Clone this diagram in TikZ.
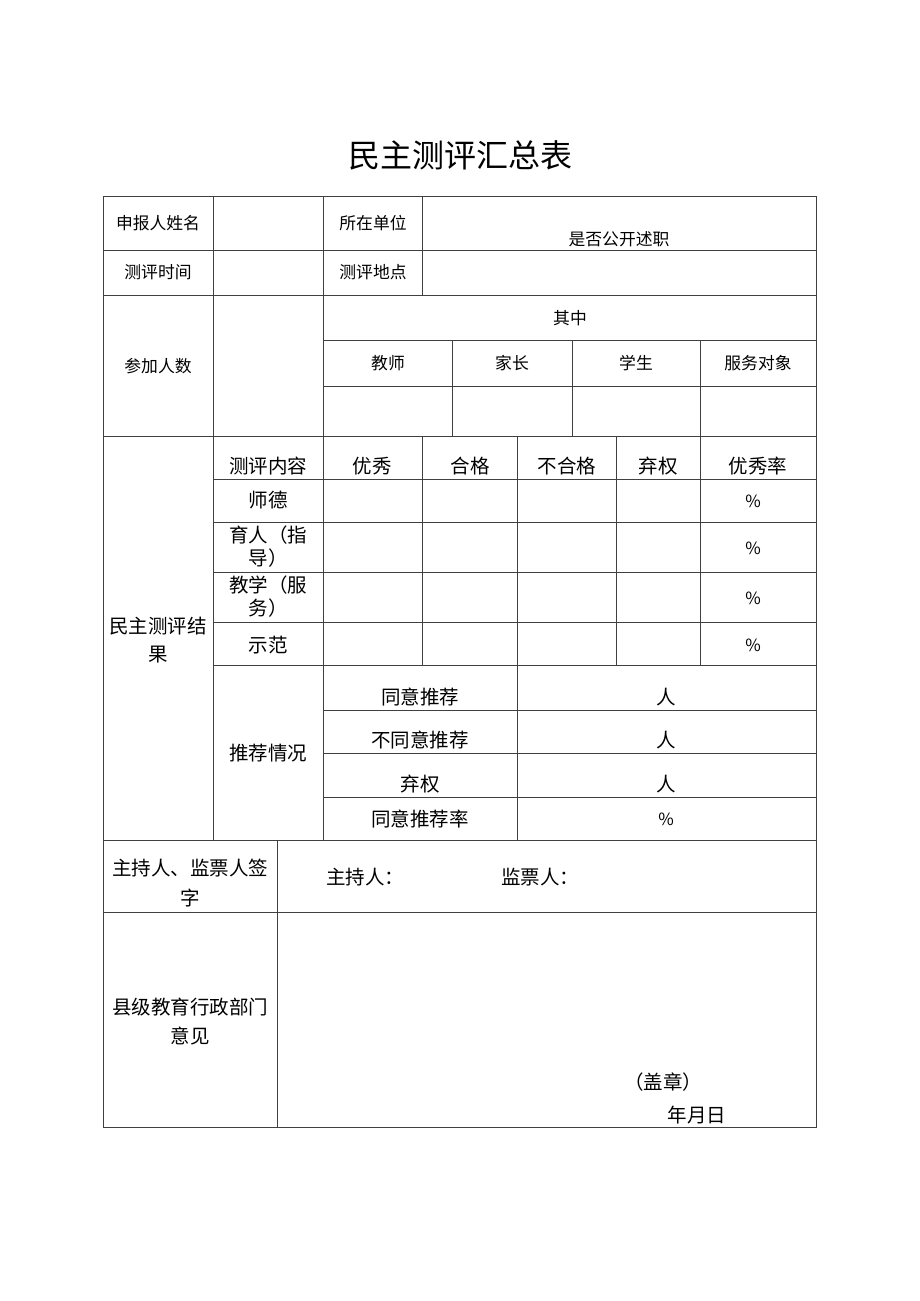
\documentclass[tikz,border=0pt]{standalone}
\usepackage{fontspec}
\setmainfont{Noto Sans CJK SC}
\begin{document}
\begin{tikzpicture}[x=1pt,y=-1pt,
  grid/.style={draw=black!75,line width=0.9pt},
  sm/.style={inner sep=0pt,font=\fontsize{16.8}{19}\selectfont},
  md/.style={inner sep=0pt,font=\fontsize{19.5}{23}\selectfont},
  ttl/.style={inner sep=0pt,font=\fontsize{32}{36}\selectfont}]
\useasboundingbox[fill=white] (0,0) rectangle (920,1301);
% title
\node[ttl] (title) at (460,155) {民主测评汇总表};
% outer frame
\draw[grid] (103,196) rectangle (816,1127);
% horizontal lines
\foreach \y in {250,295,436,840,912} \draw[grid] (103,\y) -- (816,\y);
\foreach \y in {340,386} \draw[grid] (323,\y) -- (816,\y);
\foreach \y in {479,522,572,622,665} \draw[grid] (213,\y) -- (816,\y);
\foreach \y in {710,753,797} \draw[grid] (323,\y) -- (816,\y);
% vertical lines
\draw[grid] (213,196) -- (213,840);
\draw[grid] (323,196) -- (323,840);
\draw[grid] (422,196) -- (422,295);
\draw[grid] (422,436) -- (422,665);
\foreach \x in {452,572} \draw[grid] (\x,340) -- (\x,436);
\draw[grid] (700,340) -- (700,665);
\draw[grid] (517,436) -- (517,840);
\draw[grid] (616,436) -- (616,665);
\draw[grid] (277,840) -- (277,1127);
% top section
\node[sm] (sbr) at (158,223) {申报人姓名};
\node[sm] (szdw) at (373,223) {所在单位};
\node[sm] (sfgk) at (619,239) {是否公开述职};
\node[sm] (cpsj) at (158,272) {测评时间};
\node[sm] (cpdd) at (373,272) {测评地点};
\node[sm] (cjrs) at (158,366) {参加人数};
\node[sm] (qz) at (570,318) {其中};
\node[sm] (js) at (388,363) {教师};
\node[sm] (jz) at (512,363) {家长};
\node[sm] (xs) at (636,363) {学生};
\node[sm] (fwdx) at (758,363) {服务对象};
% evaluation header
\node[md] (cpnr) at (268,466) {测评内容};
\node[md] (yx) at (372,466) {优秀};
\node[md] (hg) at (470,466) {合格};
\node[md] (bhg) at (567,466) {不合格};
\node[md] (qq) at (658,466) {弃权};
\node[md] (yxl) at (758,466) {优秀率};
% rows
\node[md] (sd) at (268,500) {师德};
\node[sm] (p1) at (753,501) {\%};
\node[md] (yr1) at (268,535) {育人（指};
\node[md] (yr2) at (268,558) {导）};
\node[sm] (p2) at (753,548) {\%};
\node[md] (jx1) at (268,585) {教学（服};
\node[md] (jx2) at (268,608) {务）};
\node[sm] (p3) at (753,598) {\%};
\node[md] (sf) at (268,645) {示范};
\node[sm] (p4) at (753,645) {\%};
\node[md] (mz1) at (158,626) {民主测评结};
\node[md] (mz2) at (158,655) {果};
% recommendation
\node[md] (tjqk) at (268,753) {推荐情况};
\node[md] (tyt) at (420,697) {同意推荐};
\node[md] (r1) at (666,697) {人};
\node[md] (btyt) at (420,740) {不同意推荐};
\node[md] (r2) at (666,740) {人};
\node[md] (qq2) at (420,784) {弃权};
\node[md] (r3) at (666,784) {人};
\node[md] (tytl) at (420,819) {同意推荐率};
\node[sm] (p5) at (666,819) {\%};
% signatures
\node[md] (zc1) at (190,868) {主持人、监票人签};
\node[md] (zc2) at (190,898) {字};
\node[md] (zcr) at (365,877) {主持人：};
\node[md] (jpr) at (540,877) {监票人：};
% county opinion
\node[md] (xj1) at (190,1007) {县级教育行政部门};
\node[md] (xj2) at (190,1036) {意见};
\node[md] (gz) at (663,1082) {（盖章）};
\node[md] (nyr) at (697,1115) {年月日};
\end{tikzpicture}
\end{document}
